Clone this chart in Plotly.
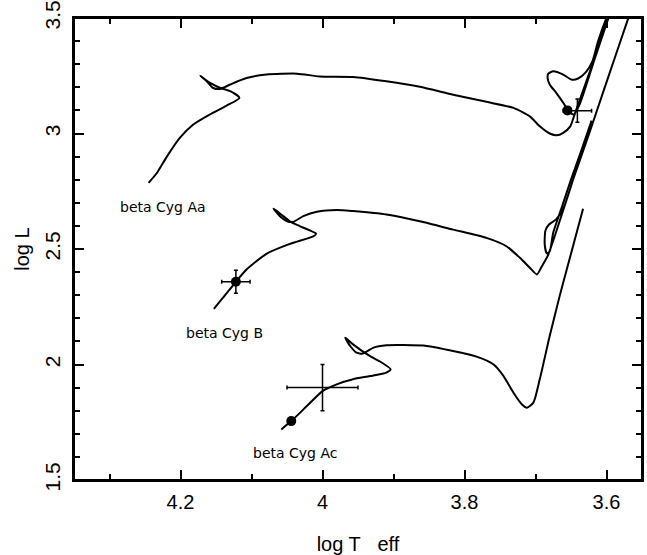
import plotly.graph_objects as go

# ---- evolutionary tracks (log Teff, log L) ----
teff_aa = [4.245, 4.233, 4.219, 4.201, 4.182, 4.159, 4.135, 4.117, 4.130, 4.144, 4.159, 4.172,
           4.163, 4.154, 4.144, 4.130, 4.107, 4.079, 4.036, 4.004, 3.957, 3.910, 3.863, 3.816,
           3.769, 3.731, 3.708, 3.694, 3.680, 3.670, 3.661, 3.651, 3.645, 3.633, 3.621, 3.610,
           3.599, 3.589, 3.601, 3.612, 3.620, 3.629, 3.640, 3.649, 3.661, 3.675, 3.682, 3.683,
           3.680, 3.670, 3.660, 3.653, 3.646, 3.638, 3.617, 3.598, 3.588]
logl_aa = [2.786, 2.830, 2.901, 2.981, 3.039, 3.082, 3.121, 3.154, 3.183, 3.197, 3.220, 3.250,
           3.226, 3.197, 3.193, 3.212, 3.240, 3.255, 3.259, 3.247, 3.245, 3.226, 3.202, 3.168,
           3.137, 3.111, 3.074, 3.031, 3.000, 2.992, 3.003, 3.031, 3.082, 3.186, 3.289, 3.389,
           3.493, 3.579, 3.493, 3.398, 3.311, 3.266, 3.238, 3.233, 3.255, 3.269, 3.259, 3.242,
           3.212, 3.173, 3.129, 3.095, 3.082, 3.125, 3.320, 3.493, 3.579]

teff_b = [4.153, 4.140, 4.122, 4.107, 4.079, 4.046, 4.013, 4.009, 4.032, 4.046, 4.058, 4.069,
          4.060, 4.048, 4.041, 4.027, 4.008, 3.980, 3.957, 3.910, 3.863, 3.816, 3.769, 3.741,
          3.722, 3.708, 3.698, 3.692, 3.682, 3.662, 3.647, 3.625, 3.6035, 3.570, 3.561,
          3.570, 3.6035, 3.625, 3.647, 3.660, 3.671, 3.681, 3.686, 3.687, 3.684, 3.680,
          3.675, 3.663, 3.650, 3.635, 3.621]
logl_b = [2.241, 2.289, 2.358, 2.411, 2.479, 2.522, 2.555, 2.566, 2.599, 2.620, 2.649, 2.675,
          2.642, 2.618, 2.618, 2.642, 2.661, 2.669, 2.664, 2.649, 2.620, 2.584, 2.548, 2.512,
          2.462, 2.419, 2.390, 2.420, 2.476, 2.658, 2.801, 2.995, 3.190, 3.493, 3.571,
          3.493, 3.190, 2.995, 2.801, 2.680, 2.628, 2.606, 2.580, 2.519, 2.481, 2.489,
          2.571, 2.680, 2.801, 2.930, 3.056]

teff_ac = [4.058, 4.044, 4.022, 4.000, 3.980, 3.957, 3.933, 3.910, 3.904, 3.919, 3.933, 3.957,
           3.968, 3.961, 3.952, 3.943, 3.928, 3.910, 3.886, 3.853, 3.816, 3.783, 3.759, 3.745,
           3.731, 3.719, 3.712, 3.703, 3.694, 3.680, 3.666, 3.656, 3.633]
logl_ac = [1.719, 1.755, 1.820, 1.885, 1.914, 1.936, 1.950, 1.965, 1.979, 2.013, 2.036, 2.087,
           2.116, 2.080, 2.051, 2.048, 2.073, 2.083, 2.084, 2.080, 2.058, 2.034, 2.000, 1.950,
           1.878, 1.827, 1.813, 1.835, 1.936, 2.123, 2.296, 2.411, 2.674]

# ---- best-fit model points ----
model_teff = [3.655, 4.122, 4.044]
model_logl = [3.100, 2.358, 1.755]

# ---- observed positions with errors ----
obs_teff = [3.641, 4.122, 4.000]
obs_logl = [3.099, 2.358, 1.900]
obs_teff_err = [0.02, 0.02, 0.05]
obs_logl_err = [0.05, 0.05, 0.10]

# ---- labels ----
label_text = ["beta Cyg Aa", "beta Cyg B", "beta Cyg Ac"]
label_teff = [4.2246, 4.1387, 4.0383]
label_logl = [2.6825, 2.1345, 1.6185]

# ---- axes ticks ----
x_tickvals = [4.2, 4.0, 3.8, 3.6]
x_ticktext = ["4.2", "4", "3.8", "3.6"]
y_tickvals = [1.5, 2.0, 2.5, 3.0, 3.5]
y_ticktext = ["1.5", "2", "2.5", "3", "3.5"]

fig = go.Figure()
line_style = dict(color="black", width=2)
for tx, ty in [(teff_aa, logl_aa), (teff_b, logl_b), (teff_ac, logl_ac)]:
    fig.add_trace(go.Scatter(x=tx, y=ty, mode="lines", line=dict(line_style, shape="spline", smoothing=0.6),
                             showlegend=False, hoverinfo="skip"))

fig.add_trace(go.Scatter(
    x=obs_teff, y=obs_logl, mode="markers",
    marker=dict(size=1, color="black"),
    error_x=dict(type="data", array=obs_teff_err, color="black", thickness=1.5, width=2),
    error_y=dict(type="data", array=obs_logl_err, color="black", thickness=1.5, width=2),
    showlegend=False))

fig.add_trace(go.Scatter(x=model_teff, y=model_logl, mode="markers",
                         marker=dict(size=10, color="black"), showlegend=False))

for t, xv, yv in zip(label_text, label_teff, label_logl):
    fig.add_annotation(x=xv, y=yv, text=t, showarrow=False,
                       font=dict(family="DejaVu Sans", size=14, color="black"))

# frame around the plot area
fig.add_shape(type="rect", xref="paper", yref="paper", x0=0, y0=0, x1=1, y1=1,
              line=dict(color="black", width=2), layer="above")

axis_common = dict(showgrid=False, zeroline=False, showline=True, linecolor="black", linewidth=2,
                   mirror="ticks", ticks="inside", ticklen=10, tickwidth=2, tickcolor="black",
                   ticklabeloverflow="allow")

fig.update_xaxes(range=[4.35, 3.55], tickvals=x_tickvals, ticktext=x_ticktext,
                 tickfont=dict(family="Liberation Sans", size=20, color="black"),
                 minor=dict(ticks="inside", dtick=0.1, tick0=4.0, ticklen=6, tickwidth=2, tickcolor="black"),
                 title=dict(text="log T\u00a0\u00a0\u00a0eff", font=dict(family="Liberation Sans", size=20, color="black"),
                            standoff=34),
                 ticklabelstandoff=3, **axis_common)
fig.update_yaxes(range=[1.5, 3.5], tickvals=y_tickvals, ticktext=y_ticktext, tickangle=-90,
                 tickfont=dict(family="Liberation Sans", size=21, color="black"),
                 minor=dict(ticks="inside", dtick=0.1, tick0=1.5, ticklen=6, tickwidth=2, tickcolor="black"),
                 title=dict(text="log L", font=dict(family="Liberation Sans", size=20, color="black"),
                            standoff=6),
                 ticklabelstandoff=4, **axis_common)

fig.update_layout(width=647, height=555, margin=dict(l=74, r=5, t=18, b=75, autoexpand=False),
                  paper_bgcolor="white", plot_bgcolor="white")

# remove the browser's default 8px body margin so the figure fills the window exactly
fig.write_html("out.html", config={"displayModeBar": False},
               post_script="document.body.style.margin='0px';")
